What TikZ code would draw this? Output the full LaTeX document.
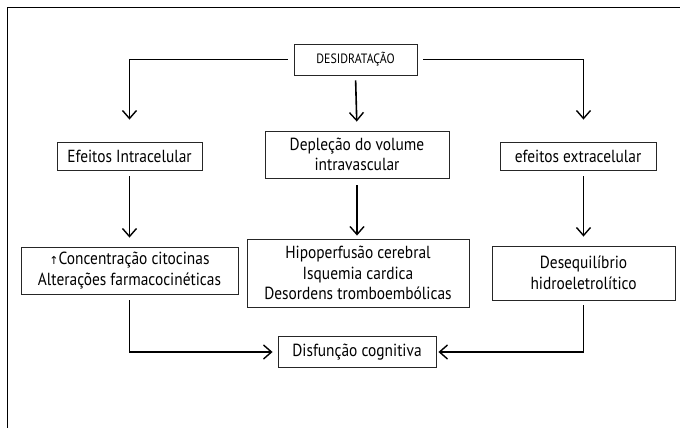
\documentclass[tikz,border=0pt]{standalone}
\usepackage{fontspec}
\setmainfont[FakeStretch=0.88]{PT Sans}
\newfontfamily\symfont{DejaVu Sans}
\usetikzlibrary{arrows.meta}
\tikzset{
  box/.style={draw=black!85, line width=0.9pt, align=center, inner sep=2pt, font=\fontsize{17.5}{20.5}\selectfont},
  arr/.style={line width=1.6pt, -{Straight Barb[length=8pt,width=14pt,line width=1.4pt]}},
}
\begin{document}
\begin{tikzpicture}[x=1pt,y=-1pt]
\useasboundingbox (0,0) rectangle (680,428);
\clip (0,0) rectangle (680,428);
\draw[line width=1pt] (7,8) rectangle (700,450);
\node[box, minimum width=123pt, minimum height=31pt, font=\fontsize{13.5}{15}\selectfont] (des) at (355.5,59.5) {DESIDRATAÇÃO};
\node[box, minimum width=145pt, minimum height=28pt] (e1) at (129.5,156) {Efeitos Intracelular};
\node[box, minimum width=184pt, minimum height=47pt] (e2) at (357,154.5) {Depleção do volume\\intravascular};
\node[box, minimum width=156pt, minimum height=28pt] (e3) at (578,156) {efeitos extracelular};
\node[box, minimum width=217pt, minimum height=47pt] (b1) at (129.5,270.5) {{\symfont\fontsize{11}{12}\selectfont ↑}Concentração citocinas\\Alterações farmacocinéticas};
\node[box, minimum width=222pt, minimum height=68pt] (b2) at (358,273) {Hipoperfusão cerebral\\Isquemia cardica\\Desordens tromboembólicas};
\node[box, minimum width=183pt, minimum height=54pt] (b3) at (583.5,273) {Desequilíbrio\\hidroeletrolítico};
\node[box, minimum width=158pt, minimum height=31pt] (dc) at (357,352) {Disfunção cognitiva};
\draw[arr, shorten <=6pt, shorten >=22pt] (des.west) -| (e1.north);
\draw[arr, shorten <=6pt, shorten >=22pt] (des.east) -| (b3.north |- e3.north);
\draw[arr, shorten <=5pt, shorten >=9pt] (des.south) -- (e2.north);
\draw[arr, shorten <=6pt, shorten >=9pt] (e1.south) -- (b1.north);
\draw[arr, shorten <=7pt, shorten >=3pt] (e2.south) -- (e2.south |- b2.north);
\draw[arr, shorten <=6pt, shorten >=9pt] (b3.north |- e3.south) -- (b3.north);
\draw[arr, shorten <=6pt, shorten >=5pt] (b1.south) |- (dc.west);
\draw[arr, shorten <=5pt, shorten >=2pt] (b3.south) |- (dc.east);
\end{tikzpicture}
\end{document}
